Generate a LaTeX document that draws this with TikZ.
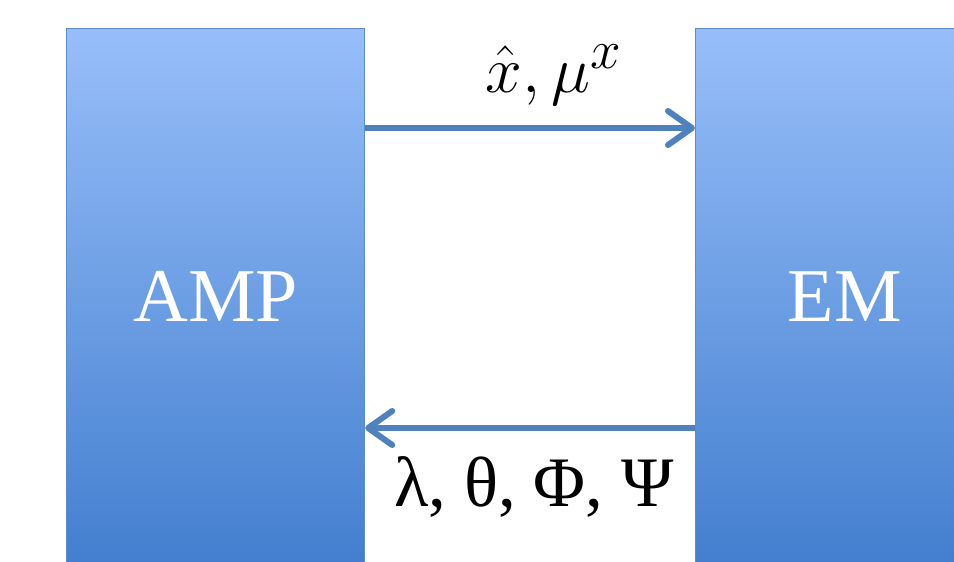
\documentclass[tikz,border=0pt]{standalone}
\usepackage{graphicx}
\usepackage{fontspec}
\setmainfont{Liberation Serif}
\usetikzlibrary{arrows.meta}
\definecolor{boxtop}{HTML}{97BEF9}
\definecolor{boxbot}{HTML}{437FCF}
\definecolor{boxedge}{HTML}{5E8CCB}
\definecolor{arrcol}{HTML}{4F81BD}
\tikzset{
  box/.style={rectangle, top color=boxtop, bottom color=boxbot, draw=boxedge, line width=1.2pt,
    minimum width=298pt, minimum height=536pt, anchor=north west, inner sep=0pt,
    text=white, font=\fontsize{76}{80}\selectfont},
  arr/.style={draw=arrcol, line width=6pt, -{Straight Barb[length=24pt, width=34pt, round]}},
  lab/.style={inner sep=0pt, text=black}
}
\begin{document}
\begin{tikzpicture}[x=1pt, y=-1pt]
\useasboundingbox (0,0) rectangle (954,562);
\clip (0,0) rectangle (954,562);
\fill[white] (0,0) rectangle (954,562);
\node[box] (amp) at (66,28) {\raisebox{-8pt}{AMP}};
\node[box] (em) at (695,28) {\raisebox{-8pt}{EM}};
\draw[arr] ([yshift=-100pt]amp.north east) -- ([yshift=-100pt]em.north west);
\draw[arr] ([yshift=-400pt]em.north west) -- ([yshift=-400pt]amp.north east);
\node[lab, anchor=base] (top) at (554,92) {\scalebox{2.65}{\fontsize{24.88}{28}\selectfont$\hat{x}, \mu^x$}};
\node[lab, anchor=base] (bot) at (534,506) {\fontsize{71}{74}\selectfont λ, θ, Φ, Ψ};
\end{tikzpicture}
\end{document}
